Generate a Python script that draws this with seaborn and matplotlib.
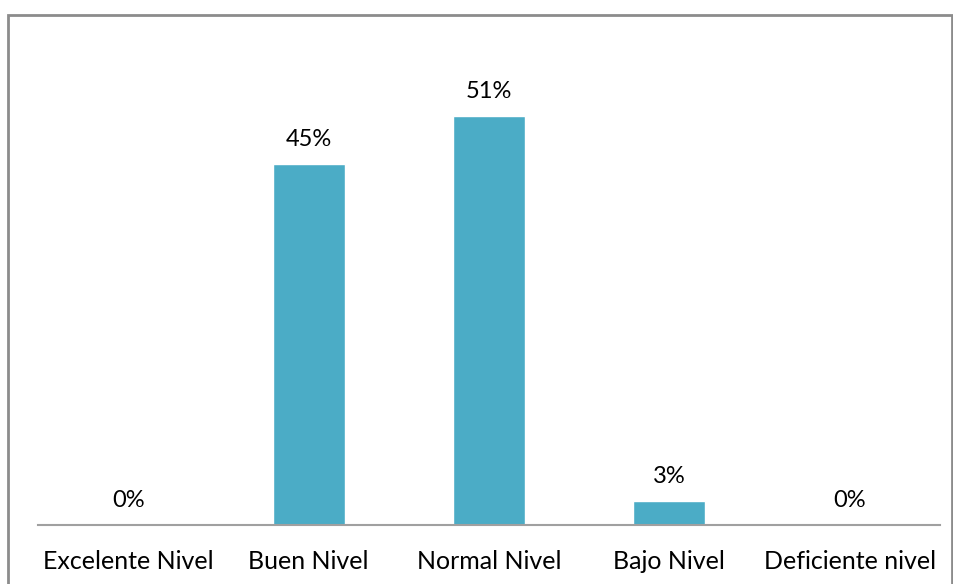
import seaborn as sns
import matplotlib.pyplot as plt
import pandas as pd
from matplotlib.patches import Rectangle

# =========================
# data
# =========================
categories = ["Excelente Nivel", "Buen Nivel", "Normal Nivel", "Bajo Nivel", "Deficiente nivel"]
percentages = [0, 45, 51, 3, 0]

df = pd.DataFrame({"Nivel": categories, "Porcentaje": percentages})

sns.set_style("white")
plt.rcParams["font.family"] = ["Lato", "DejaVu Sans"]

fig = plt.figure(figsize=(9.54, 5.84), dpi=100)
ax = fig.add_axes([38 / 954, 1 - 525 / 584, 902 / 954, 510 / 584])

sns.barplot(data=df, x="Nivel", y="Porcentaje", color="#4BACC6",
            saturation=1, width=0.4, ax=ax)

for i, v in enumerate(percentages):
    ax.annotate(f"{v}%", (i, v), xytext=(0, 10), textcoords="offset points",
                ha="center", va="bottom", fontsize=17, color="black")

ax.set_xlim(-0.5, 4.5)
ax.set_ylim(0, 63.6)
ax.set_xlabel("")
ax.set_ylabel("")
ax.set_yticks([])
ax.tick_params(axis="x", length=0, pad=18, labelsize=18, labelcolor="black")
for s in ["top", "right", "left"]:
    ax.spines[s].set_visible(False)
ax.spines["bottom"].set_color("#A0A0A0")
ax.spines["bottom"].set_linewidth(1.5)

# outer frame of the chart (cut off at the bottom)
fig.patches.append(Rectangle((8 / 954, -0.05), 944 / 954, 1.05 - 15 / 584,
                             transform=fig.transFigure, fill=False,
                             edgecolor="#8C8C8C", linewidth=2))

fig.savefig("out.png", dpi=100)
